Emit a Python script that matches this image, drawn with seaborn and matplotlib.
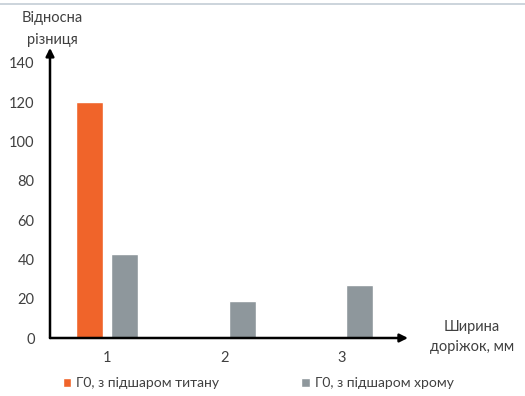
import numpy as np
import pandas as pd
import matplotlib
matplotlib.use("Agg")
import matplotlib.pyplot as plt
from matplotlib.patches import Patch
import seaborn as sns

# Track widths (mm) and relative difference for each sublayer
widths = ["1", "2", "3"]
series_names = ["Г0, з підшаром титану", "Г0, з підшаром хрому"]
titanium = [120, np.nan, np.nan]
chromium = [43, 19, 27]

colors = ["#F0642A", "#8E979C"]

rows = []
for w, t, c in zip(widths, titanium, chromium):
    rows.append({"width": w, "series": series_names[0], "value": t})
    rows.append({"width": w, "series": series_names[1], "value": c})
df = pd.DataFrame(rows).dropna()

sns.set_theme(style="white")
plt.rcParams["font.family"] = ["Lato", "DejaVu Sans"]

fig = plt.figure(figsize=(5.25, 3.96), dpi=100)
W, H = 525, 396
ax_left, ax_right, ax_top, ax_bottom = 50, 408, 63, 338
ax = fig.add_axes([ax_left / W, 1 - ax_bottom / H,
                   (ax_right - ax_left) / W, (ax_bottom - ax_top) / H])

sns.barplot(data=df, x="width", y="value", hue="series",
            order=widths, hue_order=series_names, palette=colors,
            width=0.6, gap=0.23, errorbar=None, legend=False, ax=ax,
            saturation=1)

ax.set_xlim(-0.485, 2.56)
ax.set_ylim(0, 140)
ax.set_yticks(range(0, 141, 20))
for s in ax.spines.values():
    s.set_visible(False)
ax.tick_params(axis="both", length=0, labelsize=10.5, colors="#404040")
ax.tick_params(axis="y", pad=11)
ax.tick_params(axis="x", pad=9)
ax.set_xlabel("")
ax.set_ylabel("")

# Axis arrows
arrow = dict(arrowstyle="-|>", color="black", lw=1.8, mutation_scale=12,
             shrinkA=0, shrinkB=0)
ax.annotate("", xy=(1.0, 0), xytext=(0, 0), xycoords="axes fraction",
            textcoords="axes fraction", arrowprops=arrow, annotation_clip=False)
ax.annotate("", xy=(0, 1.055), xytext=(0, 0), xycoords="axes fraction",
            textcoords="axes fraction", arrowprops=arrow, annotation_clip=False)

# Axis titles
fig.text(52 / W, 1 - 29 / H, "Відносна\nрізниця", ha="center", va="center",
         fontsize=10.5, color="#404040", linespacing=1.65)
fig.text(472 / W, 1 - 337 / H, "Ширина\nдоріжок, мм", ha="center", va="center",
         fontsize=10.5, color="#404040", linespacing=1.55)

# Thin rule along the top edge
fig.add_artist(plt.Line2D([0, 1], [1 - 4 / H, 1 - 4 / H], color="#C3CDD6", lw=1.2))

# Legend
handles = [Patch(facecolor=colors[0], label=series_names[0]),
           Patch(facecolor=colors[1], label=series_names[1])]
fig.legend(handles=handles, loc="center left", bbox_to_anchor=(50 / W, 1 - 383 / H),
           ncol=2, frameon=False, fontsize=10, handlelength=0.6, handleheight=0.6,
           handletextpad=0.4, columnspacing=5.9, labelcolor="#404040")

fig.savefig("out.png", dpi=100, facecolor="white")
